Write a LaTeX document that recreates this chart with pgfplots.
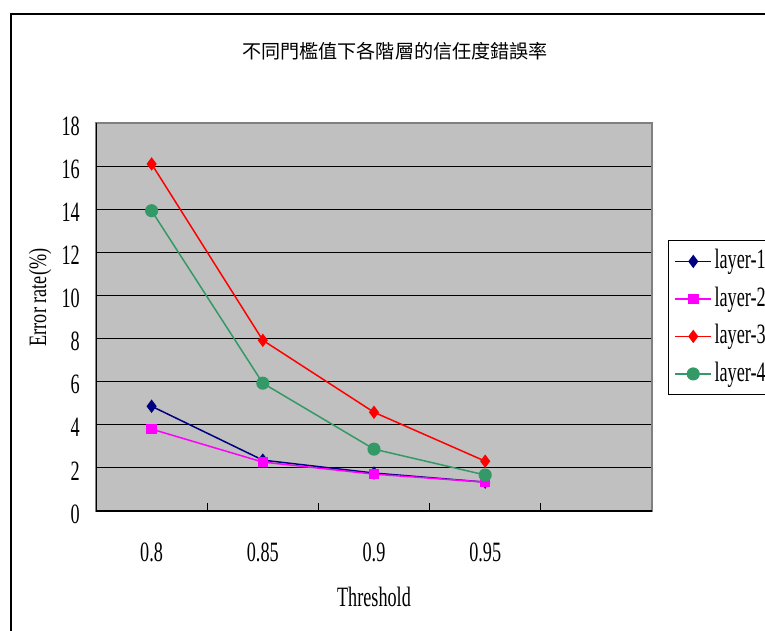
\documentclass[border=0pt]{standalone}
\usepackage{pgfplots}
\pgfplotsset{compat=1.18}
\usepackage{fontspec}
\setmainfont{Liberation Serif}[FakeStretch=0.65]
\newfontfamily\cjk{Noto Sans CJK TC}
\newfontfamily\ylabfont{Liberation Serif}[FakeStretch=0.73]
\newcommand\lab{\fontsize{28}{32}\selectfont}

\definecolor{plotbg}{HTML}{C0C0C0}
\definecolor{frame}{HTML}{808080}
\definecolor{cnavy}{HTML}{000080}
\definecolor{cmag}{HTML}{FF00FF}
\definecolor{cred}{HTML}{FF0000}
\definecolor{cgreen}{HTML}{339966}

\begin{document}
\begin{tikzpicture}[x=1pt,y=1pt]
\useasboundingbox (0,0) rectangle (765,630);
\clip (0,0) rectangle (765,630);
\fill[white] (0,0) rectangle (765,630);
% chart area frame
\draw[black, line width=1.2pt] (11,-20) -- (11,616) -- (800,616);

\begin{axis}[
  at={(96pt,119pt)}, anchor=south west,
  width=556pt, height=388pt, scale only axis,
  xmin=-0.5, xmax=4.5, ymin=0, ymax=18,
  xtick={-0.5,0.5,1.5,2.5,3.5,4.5},
  x tick label as interval,
  xticklabels={0.8,0.85,0.9,0.95,{}},
  xtick pos=bottom,
  ytick={0,2,...,18},
  ytick pos=left,
  ymajorgrids,
  major grid style={black, line width=1.2pt},
  axis line style={draw=frame, line width=1.5pt},
  axis background/.style={fill=plotbg},
  tick align=inside,
  major tick length=8pt,
  x tick style={black, line width=1.2pt},
  y tick style={draw=none},
  /pgf/number format/assume math mode=true,
  ticklabel style={font=\lab},
  xticklabel style={anchor=center, yshift=-41pt, inner sep=0pt},
  yticklabel style={anchor=east, inner sep=0pt, xshift=-16pt, yshift=-3pt},
  every axis plot/.append style={line width=1.5pt},
  legend style={
    at={(axis description cs:1.0288,0.698)}, anchor=north west,
    draw=black, line width=1pt, fill=white, font=\lab,
    inner xsep=6pt, inner ysep=3pt, row sep=2pt,
    nodes={inner xsep=2.5pt, inner ysep=2pt, text height=23pt, text depth=8.5pt},
  },
  legend cell align=left,
  legend image code/.code={
    \draw[mark repeat=2, mark phase=2]
      plot coordinates {(0pt,0pt) (18pt,0pt) (36pt,0pt)};
  },
]
\addplot[color=cnavy, mark=diamond*, mark size=5.5pt, mark options={solid}]
  coordinates {(0,4.86) (1,2.36) (2,1.76) (3,1.34)};
\addlegendentry{layer-1}
\addplot[color=cmag, mark=square*, mark size=4.5pt, mark options={solid}]
  coordinates {(0,3.80) (1,2.27) (2,1.71) (3,1.34)};
\addlegendentry{layer-2}
\addplot[color=cred, mark=diamond*, mark size=5.5pt, mark options={solid}]
  coordinates {(0,16.10) (1,7.92) (2,4.58) (3,2.31)};
\addlegendentry{layer-3}
\addplot[color=cgreen, mark=*, mark size=5.8pt, mark options={solid}]
  coordinates {(0,13.93) (1,5.93) (2,2.87) (3,1.67)};
\addlegendentry{layer-4}
% value and category axes drawn in black over the grey frame
\draw[black, line width=1.5pt]
  (rel axis cs:0,1) -- (rel axis cs:0,0) -- (rel axis cs:1,0);
\end{axis}

\node[font=\cjk\fontsize{19.1}{22}\selectfont] at (395,579) {不同門檻值下各階層的信任度錯誤率};
\node[font=\ylabfont\fontsize{25}{30}\selectfont, rotate=90] at (40,332.5) {Error rate(\%)};
\node[font=\lab] at (374,33) {Threshold};
\end{tikzpicture}
\end{document}
